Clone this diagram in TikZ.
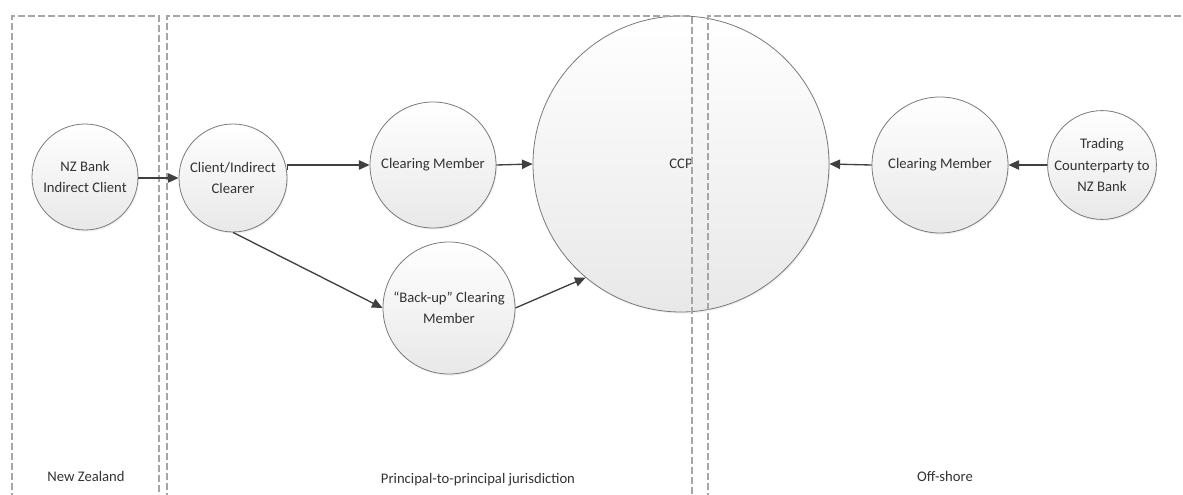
\documentclass[tikz,border=0pt]{standalone}
\usepackage{fontspec}
\setmainfont{Carlito}
\usetikzlibrary{arrows.meta,shadows}
\definecolor{txt}{HTML}{333333}
\definecolor{edge}{HTML}{7A7A7A}
\definecolor{dash}{HTML}{A6A6A6}
\definecolor{conn}{HTML}{404040}
\tikzset{
  party/.style={circle, draw=edge, line width=0.6pt, top color=white, bottom color=black!9,
    inner sep=0pt, align=center, text=txt, font=\fontsize{11}{16}\selectfont,
    drop shadow={opacity=0.12, shadow xshift=0.8pt, shadow yshift=-1.2pt}},
  zone/.style={draw=dash, line width=0.8pt, dash pattern=on 5pt off 2.5pt},
  flow/.style={draw=conn, line width=1pt, -{Triangle[length=8pt,width=7pt]}},
  zonelabel/.style={text=txt, font=\fontsize{11}{13}\selectfont, inner sep=0pt}
}
\begin{document}
\begin{tikzpicture}[x=0.75pt,y=-0.75pt]
\useasboundingbox (0,0) rectangle (1183,495);
\begin{scope}
\clip (0,0) rectangle (1183,495);
% circles
\node[party, minimum size=79.5pt] (nz) at (85,177) {NZ Bank\\Indirect Client};
\node[party, minimum size=81pt] (client) at (233,178) {Client/Indirect\\Clearer};
\node[party, minimum size=94.5pt] (cm) at (433,165) {Clearing Member};
\node[party, minimum size=99pt] (backup) at (449,308) {``Back-up'' Clearing\\Member};
\node[party, minimum size=222pt] (ccp) at (681,164) {CCP};
\node[party, minimum size=102pt] (ocm) at (940,165) {Clearing Member};
\node[party, minimum size=79.5pt] (trade) at (1102,165) {Trading\\Counterparty to\\NZ Bank};
% zones
\draw[zone] (12,520) -- (12,16) -- (159,16) -- (159,520);
\draw[zone] (167,520) -- (167,16) -- (692,16) -- (692,520);
\draw[zone] (708,520) -- (708,16) -- (1200,16);
% labels
\node[zonelabel] (lnz) at (86,476) {New Zealand};
\node[zonelabel] (lpp) at (478,480) {Principal-to-principal jurisdiction};
\node[zonelabel] (loff) at (945,476) {Off-shore};
% connectors
\draw[flow] (nz.east |- client.west) -- (client.west);
\draw[flow] (client.east |- cm.west) -- (cm.west);
\draw[conn, line width=1pt] (client.east |- cm.west) -- ++(0,5);
\draw[flow] (client.south) -- (backup.west);
\draw[flow] (backup.east) -- (ccp.230);
\draw[flow] (cm.east) -- (ccp.west);
\draw[flow] (ocm.west) -- (ccp.east);
\draw[flow] (trade.west) -- (ocm.east);
\end{scope}
\end{tikzpicture}
\end{document}
